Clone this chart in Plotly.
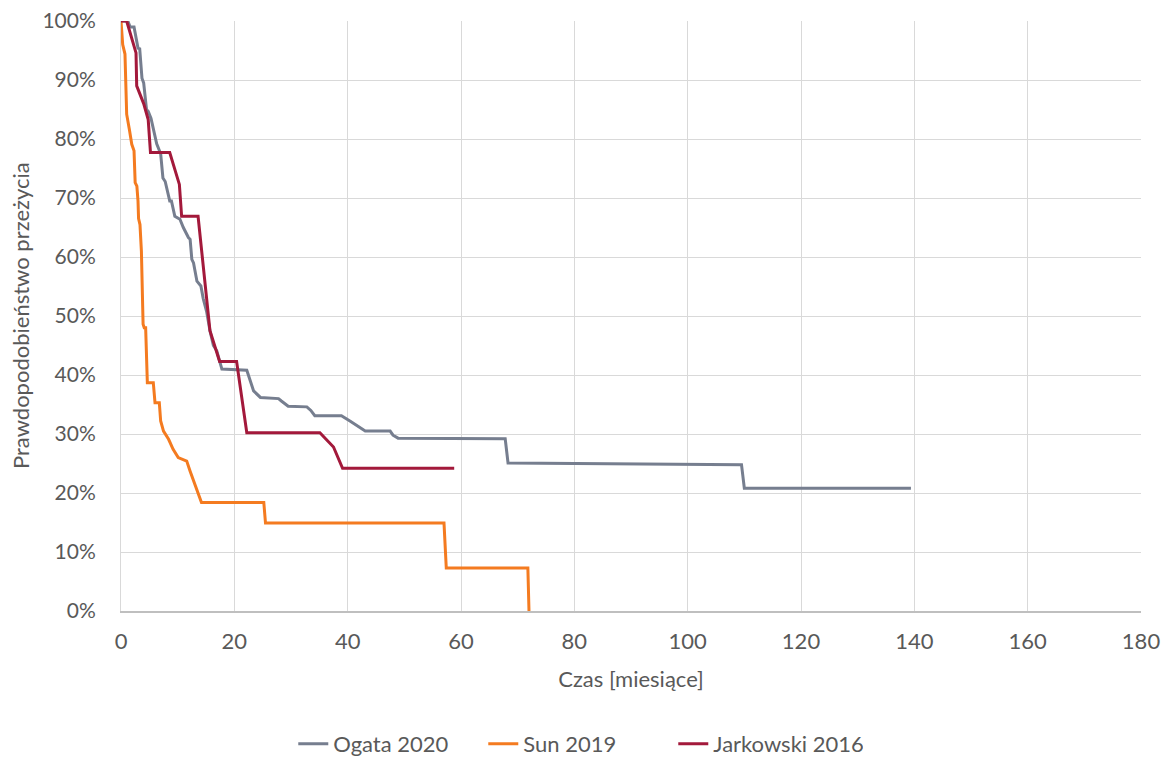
import plotly.graph_objects as go

# Ogata 2020
ogata_x = [0, 1.2, 1.6, 2.3, 3.0, 3.3, 3.7, 4.0, 4.5, 4.8, 5.3, 5.8, 6.3, 7.0, 7.4, 7.8, 8.6, 8.9, 9.5, 10.4, 11.0, 11.9, 12.2, 12.5, 12.8, 13.4, 14.1, 14.5, 15.1, 15.7, 16.3, 16.9, 17.8, 22.2, 22.6, 23.4, 24.6, 27.8, 28.3, 29.5, 32.8, 33.5, 34.2, 38.9, 40.4, 41.5, 43.1, 47.5, 48.0, 48.9, 67.8, 68.3, 84.8, 85.2, 109.5, 110.0, 139.4]
ogata_y = [1.000, 1.000, 0.990, 0.990, 0.954, 0.953, 0.903, 0.895, 0.850, 0.847, 0.835, 0.815, 0.792, 0.775, 0.734, 0.728, 0.695, 0.695, 0.669, 0.664, 0.650, 0.633, 0.630, 0.596, 0.590, 0.559, 0.551, 0.530, 0.508, 0.475, 0.450, 0.441, 0.410, 0.408, 0.395, 0.373, 0.362, 0.360, 0.356, 0.347, 0.346, 0.340, 0.331, 0.331, 0.322, 0.315, 0.305, 0.305, 0.298, 0.293, 0.292, 0.251, 0.250, 0.249, 0.248, 0.208, 0.208]

# Sun 2019
sun_x = [0, 0.3, 0.7, 1.0, 1.5, 1.9, 2.3, 2.5, 2.8, 3.0, 3.1, 3.35, 3.6, 3.9, 4.1, 4.35, 4.65, 5.7, 6.0, 6.76, 7.0, 7.5, 8.4, 9.2, 10.1, 11.6, 12.2, 12.8, 13.5, 14.2, 25.2, 25.5, 57.0, 57.4, 71.8, 72.0]
sun_y = [1.000, 0.960, 0.944, 0.842, 0.815, 0.791, 0.780, 0.726, 0.720, 0.695, 0.665, 0.655, 0.610, 0.486, 0.480, 0.480, 0.387, 0.387, 0.353, 0.353, 0.322, 0.305, 0.291, 0.274, 0.260, 0.254, 0.237, 0.220, 0.203, 0.184, 0.184, 0.149, 0.149, 0.073, 0.073, 0.0]

# Jarkowski 2016
jark_x = [0, 1.0, 2.65, 2.77, 4.0, 4.8, 5.2, 8.6, 10.3, 10.7, 13.6, 15.1, 15.7, 17.4, 20.4, 22.2, 35.1, 37.5, 39.1, 58.8]
jark_y = [1.000, 1.000, 0.946, 0.890, 0.860, 0.833, 0.777, 0.777, 0.723, 0.669, 0.669, 0.525, 0.475, 0.423, 0.423, 0.302, 0.302, 0.278, 0.242, 0.242]

series_names = ["Ogata 2020", "Sun 2019", "Jarkowski 2016"]
colors = ["#767e8f", "#f47b20", "#a3193b"]

x_ticks = list(range(0, 181, 20))
y_ticks = [i / 10 for i in range(0, 11)]

fig = go.Figure()
for name, xs, ys, c in zip(series_names, [ogata_x, sun_x, jark_x], [ogata_y, sun_y, jark_y], colors):
    fig.add_trace(go.Scatter(x=xs, y=ys, mode="lines", name=name,
                             line=dict(color=c, width=3)))

font_fam = "Lato, 'Open Sans', sans-serif"
txt = "#595959"
fs = 22
fig.update_layout(
    width=1171, height=758,
    margin=dict(l=113, r=38, t=13, b=155, autoexpand=False),
    paper_bgcolor="white", plot_bgcolor="white",
    font=dict(family=font_fam, size=fs, color=txt),
    showlegend=True,
    legend=dict(orientation="h", x=0.487, xanchor="center", xref="container",
                y=0.029, yanchor="middle", yref="container",
                entrywidth=145, entrywidthmode="pixels",
                font=dict(size=fs, color=txt), traceorder="normal"),
    xaxis=dict(range=[0, 180], tickvals=x_ticks, showgrid=True, gridcolor="#d9d9d9",
               gridwidth=1, zeroline=False, showline=True, linecolor="#bfbfbf", linewidth=1.5,
               ticks="outside", ticklen=10, tickcolor="rgba(0,0,0,0)", automargin=False,
               ticklabeloverflow="allow",
               title=dict(text="Czas [miesiące]", font=dict(size=fs, color=txt), standoff=18)),
    yaxis=dict(range=[0, 1], tickvals=y_ticks, tickformat=".0%", showgrid=True, gridcolor="#d9d9d9",
               gridwidth=1, zeroline=False, showline=True, linecolor="#d9d9d9", linewidth=1,
               ticks="outside", ticklen=20, tickcolor="rgba(0,0,0,0)", automargin=False,
               ticklabeloverflow="allow", tickfont=dict(size=21, color=txt)),
    annotations=[dict(text="Prawdopodobieństwo przeżycia", textangle=-90,
                      xref="paper", yref="paper", x=0, y=0.5, xanchor="center", yanchor="middle",
                      xshift=-101, showarrow=False, font=dict(size=fs, color=txt))],
)
fig.write_html("out.html")
